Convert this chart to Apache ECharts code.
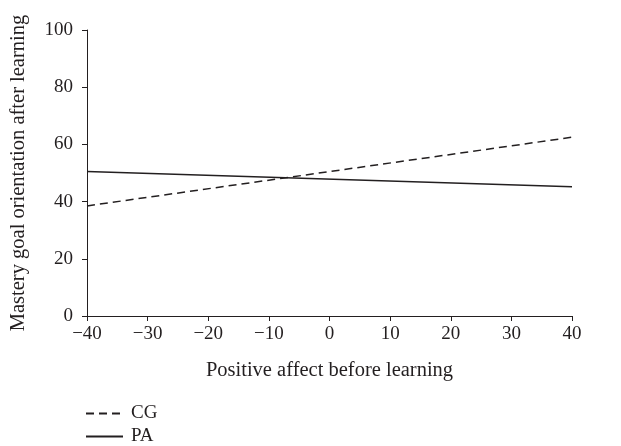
<!DOCTYPE html>
<html>
<head>
<meta charset="utf-8">
<script src="https://cdn.jsdelivr.net/npm/echarts@6/dist/echarts.min.js"></script>
<style>html,body{margin:0;padding:0;background:#fff}#c{width:621px;height:446px}</style>
</head>
<body>
<div id="c"></div>
<script>
const xValues = [-40, 40];
const cgValues = [38.5, 62.5];
const paValues = [50.5, 45.2];
const seriesNames = ['CG', 'PA'];

const font = 'Liberation Serif';
const textColor = '#231f20';
const minus = v => String(v).replace('-', '\u2212');
const legendBase = {
  orient: 'vertical', left: 85, padding: 0, itemWidth: 37, itemHeight: 14,
  itemStyle: {opacity: 0},
  textStyle: {fontFamily: font, fontSize: 19, color: textColor, padding: [0, 0, 0, 3]}
};
const chart = echarts.init(document.getElementById('c'), null, {renderer: 'canvas'});
chart.setOption({
  animation: false,
  backgroundColor: '#fff',
  grid: {left: 86, right: 49, top: 30, bottom: 130},
  legend: [
    Object.assign({}, legendBase, {top: 404, data: [seriesNames[0]]}),
    Object.assign({}, legendBase, {top: 427, data: [seriesNames[1]]})
  ],
  xAxis: {
    type: 'value', min: -40, max: 40, interval: 10,
    name: 'Positive affect before learning', nameLocation: 'middle', nameGap: 44,
    nameTextStyle: {fontFamily: font, fontSize: 20.5, color: textColor},
    axisLine: {show: true, onZero: false, lineStyle: {color: '#231f20', width: 1}},
    axisTick: {show: true, length: 5, lineStyle: {color: '#231f20'}},
    axisLabel: {fontFamily: font, fontSize: 19, color: textColor, margin: 9, formatter: minus},
    splitLine: {show: false}
  },
  yAxis: {
    type: 'value', min: 0, max: 100, interval: 20,
    name: 'Mastery goal orientation after learning', nameLocation: 'middle', nameGap: 58,
    nameTextStyle: {fontFamily: font, fontSize: 20.5, color: textColor},
    axisLine: {show: true, onZero: false, lineStyle: {color: '#231f20', width: 1}},
    axisTick: {show: true, length: 5, lineStyle: {color: '#231f20'}},
    axisLabel: {fontFamily: font, fontSize: 19, color: textColor, margin: 14},
    splitLine: {show: false}
  },
  series: [
    {name: seriesNames[0], type: 'line', symbol: 'none', data: xValues.map((x, i) => [x, cgValues[i]]),
     lineStyle: {color: '#231f20', width: 1.5, type: [8, 5]}, itemStyle: {color: '#231f20'}},
    {name: seriesNames[1], type: 'line', symbol: 'none', data: xValues.map((x, i) => [x, paValues[i]]),
     lineStyle: {color: '#231f20', width: 1.5, type: 'solid'}, itemStyle: {color: '#231f20'}}
  ]
});
</script>
</body>
</html>
